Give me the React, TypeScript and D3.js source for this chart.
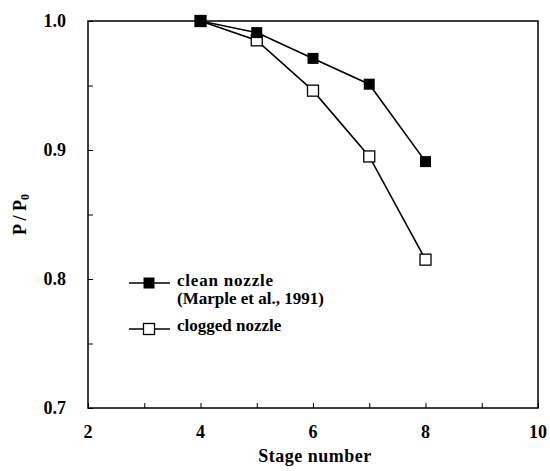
import React, { useEffect, useRef } from "react";
import * as d3 from "d3";

const stages = [4, 5, 6, 7, 8];
const cleanNozzle = [1.0, 0.991, 0.971, 0.951, 0.891];
const cloggedNozzle = [1.0, 0.985, 0.946, 0.895, 0.815];
const xTicks = [2, 4, 6, 8, 10];
const yTicks = [0.7, 0.8, 0.9, 1.0];

const W = 550;
const H = 471;
const margin = { left: 88, top: 21, right: 12, bottom: 63 };
const FONT = "'Liberation Serif', 'Times New Roman', serif";

export default function App() {
  const ref = useRef<SVGSVGElement>(null);

  useEffect(() => {
    const svg = d3.select(ref.current);
    svg.selectAll("*").remove();

    const x = d3.scaleLinear().domain([2, 10]).range([margin.left, W - margin.right]);
    const y = d3.scaleLinear().domain([0.7, 1.0]).range([H - margin.bottom, margin.top]);

    // frame
    svg.append("rect")
      .attr("x", x(2)).attr("y", y(1.0))
      .attr("width", x(10) - x(2)).attr("height", y(0.7) - y(1.0))
      .attr("fill", "none").attr("stroke", "#000").attr("stroke-width", 1.5);

    // ticks pointing inward
    const xAxis = d3.axisBottom(x).tickValues(d3.range(2, 10.01, 1))
      .tickSize(-5).tickFormat(() => "");
    svg.append("g").attr("transform", `translate(0,${y(0.7)})`).call(xAxis)
      .call(g => g.select(".domain").remove());

    const yAxis = d3.axisLeft(y).tickValues(d3.range(0.7, 1.001, 0.05))
      .tickSize(-5).tickFormat(() => "");
    svg.append("g").attr("transform", `translate(${x(2)},0)`).call(yAxis)
      .call(g => g.select(".domain").remove());

    // tick labels
    svg.append("g").selectAll("text").data(xTicks).enter().append("text")
      .attr("x", d => x(d)).attr("y", y(0.7) + 30)
      .attr("text-anchor", "middle")
      .style("font-family", FONT).attr("font-weight", "bold").attr("font-size", 18)
      .text(d => d);

    svg.append("g").selectAll("text").data(yTicks).enter().append("text")
      .attr("x", x(2) - 22).attr("y", d => y(d) + 6)
      .attr("text-anchor", "end")
      .style("font-family", FONT).attr("font-weight", "bold").attr("font-size", 18)
      .text(d => d.toFixed(1));

    // axis titles
    svg.append("text")
      .attr("x", 315).attr("y", H - 9)
      .attr("text-anchor", "middle")
      .style("font-family", FONT).attr("font-weight", "bold").attr("font-size", 18)
      .attr("letter-spacing", 0.5)
      .text("Stage number");

    const yl = svg.append("text")
      .attr("transform", `translate(26,${(y(0.7) + y(1.0)) / 2}) rotate(-90)`)
      .attr("text-anchor", "middle")
      .style("font-family", FONT).attr("font-weight", "bold").attr("font-size", 18);
    yl.append("tspan").text("P / P");
    yl.append("tspan").attr("font-size", 12).attr("dy", 3).text("0");

    const line = d3.line<number>().x((d, i) => x(stages[i])).y(d => y(d));
    const ms = 11;

    // clogged first (behind)
    svg.append("path").datum(cloggedNozzle).attr("d", line)
      .attr("fill", "none").attr("stroke", "#000").attr("stroke-width", 1.6);
    svg.append("path").datum(cleanNozzle).attr("d", line)
      .attr("fill", "none").attr("stroke", "#000").attr("stroke-width", 1.6);

    svg.append("g").selectAll("rect").data(cloggedNozzle).enter().append("rect")
      .attr("x", (d, i) => x(stages[i]) - ms / 2).attr("y", d => y(d) - ms / 2)
      .attr("width", ms).attr("height", ms)
      .attr("fill", "#fff").attr("stroke", "#000").attr("stroke-width", 1.3);
    svg.append("g").selectAll("rect").data(cleanNozzle).enter().append("rect")
      .attr("x", (d, i) => x(stages[i]) - ms / 2).attr("y", d => y(d) - ms / 2)
      .attr("width", ms).attr("height", ms)
      .attr("fill", "#000");

    // legend
    const leg = svg.append("g").style("font-family", FONT).attr("font-weight", "bold").attr("font-size", 17);
    const lx1 = 129, lx2 = 170, lm = 149;
    leg.append("line").attr("x1", lx1).attr("x2", lx2).attr("y1", 283).attr("y2", 283)
      .attr("stroke", "#000").attr("stroke-width", 1.5);
    leg.append("rect").attr("x", lm - ms / 2).attr("y", 283 - ms / 2)
      .attr("width", ms).attr("height", ms).attr("fill", "#000");
    leg.append("text").attr("x", 177).attr("y", 286).attr("letter-spacing", 0.8).text("clean nozzle");
    leg.append("text").attr("x", 177).attr("y", 304).text("(Marple et al., 1991)");

    leg.append("line").attr("x1", lx1).attr("x2", lx2).attr("y1", 329).attr("y2", 329)
      .attr("stroke", "#000").attr("stroke-width", 1.5);
    leg.append("rect").attr("x", lm - ms / 2).attr("y", 329 - ms / 2)
      .attr("width", ms).attr("height", ms)
      .attr("fill", "#fff").attr("stroke", "#000").attr("stroke-width", 1.3);
    leg.append("text").attr("x", 177).attr("y", 331).text("clogged nozzle");
  }, []);

  return (
    <svg ref={ref} width={W} height={H} style={{ position: "absolute", left: 0, top: 0, background: "#fff" }} />
  );
}
